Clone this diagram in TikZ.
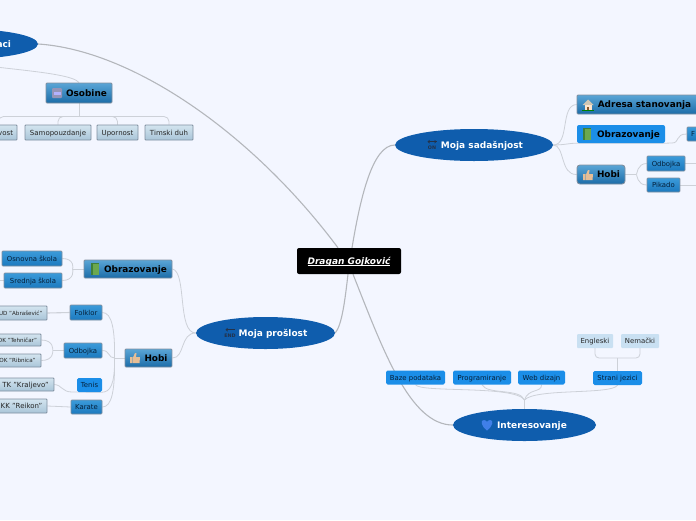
\documentclass[tikz,border=0pt]{standalone}
\usepackage{fontspec}
\setmainfont{DejaVu Sans}
\usetikzlibrary{shapes.geometric,calc,backgrounds}
\definecolor{bgc}{HTML}{F3F6FF}
\definecolor{ovalc}{HTML}{0F5DAD}
\definecolor{inkc}{HTML}{04203A}
\definecolor{linec}{HTML}{CDD1D8}
\definecolor{mainline}{HTML}{B4B7BC}
\definecolor{bigtop}{HTML}{5AA5D6}
\definecolor{bigbot}{HTML}{1B6CA8}
\definecolor{midtop}{HTML}{3B9BDA}
\definecolor{midbot}{HTML}{1C79BE}
\definecolor{flatc}{HTML}{1B8EE8}
\definecolor{leaftop}{HTML}{D3E4EF}
\definecolor{leafbot}{HTML}{A9C5D8}
\definecolor{paleleafc}{HTML}{C9E0F2}
\definecolor{edgec}{HTML}{7F8FA0}
\definecolor{bookc}{HTML}{6BA84F}
\definecolor{bookd}{HTML}{3F7F3A}
\definecolor{thumbc}{HTML}{E6BE96}
\definecolor{heartc}{HTML}{3F7FE8}
\definecolor{icond}{HTML}{23324A}
\definecolor{roofc}{HTML}{CFC6B4}
\newcommand{\ulx}[1]{\setbox0\hbox{#1}\rlap{\rule[-1.5pt]{\wd0}{.6pt}}\box0}
\tikzset{
  boldtext/.style={text height=7pt,text depth=.4pt},
  smalltext/.style={text height=5.6pt,text depth=.4pt},
  oval/.style={ellipse,fill=ovalc,draw=none,inner sep=0pt,text=white,boldtext,font=\fontsize{9}{11}\selectfont\bfseries},
  bigbox/.style={rectangle,rounded corners=1pt,draw=edgec,line width=.9pt,top color=bigtop,bottom color=bigbot,inner sep=0pt,text=black,boldtext,font=\fontsize{8.9}{11}\selectfont\bfseries},
  midbox/.style={rectangle,rounded corners=.8pt,draw=edgec,line width=.7pt,top color=midtop,bottom color=midbot,inner sep=0pt,text=inkc,smalltext,font=\fontsize{6.9}{8}\selectfont},
  flatbox/.style={rectangle,rounded corners=1.6pt,fill=flatc,draw=none,inner sep=0pt,text=inkc,smalltext,font=\fontsize{6.9}{8}\selectfont},
  leafbox/.style={rectangle,rounded corners=.8pt,draw=edgec,line width=.8pt,top color=leaftop,bottom color=leafbot,inner sep=0pt,text=black!85,smalltext,font=\fontsize{7}{8}\selectfont},
  paleleaf/.style={rectangle,rounded corners=1pt,fill=paleleafc,draw=none,inner sep=0pt,text=black!85,smalltext,font=\fontsize{6.9}{8}\selectfont},
  conn/.style={draw=linec,line width=.8pt},
  mainconn/.style={draw=mainline,line width=1.1pt},
  bookicon/.pic={\fill[bookd] (-4,-6) rectangle (4,6);\fill[bookc] (-2.2,-5.5) rectangle (3.6,5.5);},
  thumbicon/.pic={\fill[thumbc] (-5,-1) rectangle (-2.5,5) (-2,-.5) -- (0,-5) -- (1.5,-5) -- (1,-1) -- (5,-1) -- (4.5,5) -- (-2,5) -- cycle;},
  houseicon/.pic={\fill[roofc] (-5.5,0) -- (0,-5.5) -- (5.5,0) -- cycle;\fill[white!80!orange] (-3.5,0) rectangle (3.5,5);\fill[green!50!black] (-6,4.5) rectangle (6,6);\fill[brown!70!black] (-1,1.5) rectangle (1,5);},
  hearticon/.pic={\fill[heartc] (0,5.5) .. controls (-6,1) and (-7,-5) .. (-3,-5) .. controls (-1.5,-5) and (-.5,-4) .. (0,-3) .. controls (.5,-4) and (1.5,-5) .. (3,-5) .. controls (7,-5) and (6,1) .. (0,5.5) -- cycle;},
  arrowicon/.pic={\fill[icond] (-4.5,-4) rectangle (4.5,-2.7);\fill[icond] (-4.5,-3.35) -- (-2.5,-5.2) -- (-2.5,-1.5) -- cycle;\fill[icond] (4.5,-3.35) -- (2.5,-5.2) -- (2.5,-1.5) -- cycle;\node[inner sep=0pt,text=icond,font=\fontsize{4.8}{5}\selectfont\bfseries] at (0,2.7) {ON};},
  endicon/.pic={\fill[icond] (-4.5,-4) rectangle (4.5,-2.7);\fill[icond] (-4.5,-3.35) -- (-2.5,-5.2) -- (-2.5,-1.5) -- cycle;\node[inner sep=0pt,text=icond,font=\fontsize{4.8}{5}\selectfont\bfseries] at (0,2.7) {END};},
  mailicon/.pic={\fill[blue!20!gray!70,rounded corners=1pt] (-5,-5) rectangle (5,5);\fill[white!70!blue] (-3.5,-1) rectangle (3.5,1.5);},
}
\begin{document}
\begin{tikzpicture}[x=1pt,y=-1pt]
\useasboundingbox (0,0) rectangle (696,520);
\clip (0,0) rectangle (696,520);

% main nodes
\node[rectangle,rounded corners=2pt,fill=black,text=white,inner sep=0pt,minimum width=104pt,minimum height=26pt,boldtext,font=\fontsize{9}{11}\selectfont\bfseries\itshape] (root) at (349,261) {\ulx{Dragan Gojković}};
\node[oval,minimum width=158pt,minimum height=32pt] (sad) at (474,145) {\hspace*{16pt}Moja sadašnjost};
\node[oval,minimum width=139pt,minimum height=32pt] (pro) at (265.5,333) {\hspace*{15pt}Moja prošlost};
\node[oval,minimum width=143pt,minimum height=32pt] (int) at (524.5,425) {\hspace*{15pt}Interesovanje};
\node[oval,minimum width=150pt,minimum height=30pt] (lic) at (-37,44) {\makebox[96pt][r]{aci}};

% level 2
\node[bigbox,minimum width=66pt,minimum height=20pt] (oso) at (79,93) {\hspace*{15pt}Osobine};
\node[leafbox,minimum width=37pt,minimum height=15pt] (vos) at (-1.5,132.5) {\makebox[29pt][r]{vost}};
\node[leafbox,minimum width=66pt,minimum height=15pt] (sam) at (58,132.5) {Samopouzdanje};
\node[leafbox,minimum width=41pt,minimum height=15pt] (upo) at (117.5,132.5) {Upornost};
\node[leafbox,minimum width=48pt,minimum height=15pt] (tim) at (169,132.5) {Timski duh};

\node[bigbox,minimum width=122pt,minimum height=19pt] (adr) at (638,104.5) {\hspace*{13pt}Adresa stanovanja};
\node[flatbox,rounded corners=2pt,text=black,boldtext,font=\fontsize{8.9}{11}\selectfont\bfseries,minimum width=88pt,minimum height=18pt] (obr) at (621,134) {\hspace*{15pt}Obrazovanje};
\node[midbox,minimum width=30pt,minimum height=14pt] (fbx) at (702,134) {\makebox[22pt][l]{F}};
\node[bigbox,rounded corners=3pt,minimum width=48pt,minimum height=19pt] (hob) at (601,174.5) {\hspace*{15pt}Hobi};
\node[midbox,minimum width=38pt,minimum height=15pt] (odb) at (666,163.5) {Odbojka};
\node[midbox,minimum width=33pt,minimum height=14pt] (pik) at (663.5,185) {Pikado};
\coordinate (odbend) at (696,163.5);
\coordinate (pikend) at (696,185);

\node[bigbox,minimum width=88pt,minimum height=18pt] (obl) at (128,269) {\hspace*{15pt}Obrazovanje};
\node[midbox,minimum width=60pt,minimum height=15pt] (osn) at (32,258.5) {Osnovna škola};
\node[midbox,minimum width=58pt,minimum height=15pt] (sre) at (33,280.5) {Srednja škola};
\coordinate (sreend) at (0,280.5);
\node[bigbox,minimum width=47pt,minimum height=18pt] (hol) at (148.5,358) {\hspace*{15pt}Hobi};
\node[midbox,minimum width=32pt,minimum height=15pt] (fol) at (86,312.5) {Folklor};
\node[midbox,minimum width=38pt,minimum height=15pt] (odl) at (83,350.5) {Odbojka};
\node[flatbox,minimum width=25pt,minimum height=14pt] (ten) at (89.5,385) {Tenis};
\node[midbox,minimum width=31pt,minimum height=14pt] (kar) at (86.5,407) {Karate};
\node[leafbox,font=\fontsize{5.6}{7}\selectfont,text height=4.6pt,minimum width=56pt,minimum height=14pt] (kud) at (19,313) {KUD "Abrašević"};
\node[leafbox,font=\fontsize{5.6}{7}\selectfont,text height=4.6pt,minimum width=47pt,minimum height=12pt] (teh) at (17.5,340) {OK "Tehničar"};
\node[leafbox,font=\fontsize{5.6}{7}\selectfont,text height=4.6pt,minimum width=47pt,minimum height=13pt] (rib) at (17.5,360.5) {OK "Ribnica"};
\node[leafbox,minimum width=57pt,minimum height=13pt] (tkk) at (25.5,384.5) {TK "Kraljevo"};
\node[leafbox,minimum width=51pt,minimum height=14pt] (kkr) at (21.5,406) {KK "Reikon"};

\node[flatbox,minimum width=59pt,minimum height=14pt] (baz) at (415.5,377.5) {Baze podataka};
\node[flatbox,minimum width=58pt,minimum height=14pt] (prg) at (482,377.5) {Programiranje};
\node[flatbox,minimum width=47pt,minimum height=14pt] (web) at (541.5,377.5) {Web dizajn};
\node[flatbox,minimum width=49pt,minimum height=14pt] (str) at (617.5,378) {Strani jezici};
\node[paleleaf,minimum width=36pt,minimum height=14pt] (eng) at (595,341) {Engleski};
\node[paleleaf,minimum width=38pt,minimum height=14pt] (nem) at (640,341) {Nemački};

\coordinate (hubT) at (0,116.5);
\coordinate (hubI) at (524.5,400);
\coordinate (rootNW) at ($(root.north)+(-11,0)$);
\coordinate (rootNE) at ($(root.north)+(3,0)$);
\coordinate (rootSW) at ($(root.south)+(-1,0)$);
\coordinate (rootSE) at ($(root.south)+(4,0)$);
\coordinate (hubS) at (0,358);

% connectors, behind the nodes
\begin{pgfonlayer}{background}
\fill[bgc] (0,0) rectangle (696,520);
\draw[mainconn] (lic.east) .. controls (130,50) and (250,130) .. (rootNW);
\draw[mainconn] (rootNE) .. controls (360,200) and (372,145) .. (sad.west);
\draw[mainconn] (rootSW) .. controls (345,300) and (342,325) .. (pro.east);
\draw[mainconn] (rootSE) .. controls (383,350) and (410,425) .. (int.west);

\draw[conn] (lic.south) .. controls (-37,68) and (70,70) .. (oso.north);
\draw[conn,line width=1pt] (oso.south) -- (oso.south |- hubT);
\draw[conn,rounded corners=5pt] (vos.north) -- (vos.north |- hubT) -- (tim.north |- hubT) -- (tim.north);
\draw[conn,rounded corners=5pt] (sam.north) -- (sam.north |- hubT) -- (upo.north |- hubT) -- (upo.north);

\draw[conn] (adr.west) .. controls (560,105) and (570,145) .. (sad.east);
\draw[conn] (sad.east) .. controls (565,145) and (570,143) .. (obr.south west) -- (obr.south east) -- (672,143) .. controls (680,143) and (675,134) .. (fbx.west);
\draw[conn] (hob.west) .. controls (560,175) and (565,145) .. (sad.east);
\draw[conn,line width=1pt] (hob.east) -- ++(11,0) coordinate (hubR);
\draw[conn] (odb.west) .. controls (637,163.5) and (637,174.5) .. (hubR);
\draw[conn] (pik.west) .. controls (637,185) and (637,174.5) .. (hubR);
\draw[conn] (odb.east) -- (odbend);
\draw[conn] (pik.east) -- (pikend);

\draw[conn] (obl.east) .. controls (187,272) and (177,333) .. (pro.west);
\draw[conn] (hol.east) .. controls (185,358) and (180,333) .. (pro.west);
\draw[conn,line width=1pt] (obl.west) -- ++(-11,0) coordinate (hubO);
\draw[conn] (osn.east) .. controls (75,258.5) and (73,269) .. (hubO);
\draw[conn] (sre.east) .. controls (75,280.5) and (73,269) .. (hubO);
\draw[conn] (sreend) -- (sre.west);

\draw[conn,line width=1pt] (hol.west) -- ++(-10,0) coordinate (hubH);
\draw[conn] (fol.east) .. controls (112,312.5) and (115,330) .. (hubH);
\draw[conn] (odl.east) .. controls (110,350.5) and (108,358) .. (hubH);
\draw[conn] (ten.south east) .. controls (110,392) and (115,385) .. (hubH);
\draw[conn] (kar.east) .. controls (112,407) and (115,390) .. (hubH);
\draw[conn] (tkk.east) .. controls (62,385) and (62,392) .. (72,392) -- (ten.south east);
\draw[conn,line width=1.1pt] (kud.east) -- (fol.west);
\draw[conn,line width=1pt] (odl.west) -- ++(-11,0) coordinate (hubL);
\draw[conn] (teh.east) .. controls (54,340) and (53,350.5) .. (hubL);
\draw[conn] (rib.east) .. controls (54,360.5) and (53,350.5) .. (hubL);
\draw[conn] (kkr.east) -- (kar.west);

\draw[conn,line width=1.3pt] (int.north) -- (hubI);
\draw[conn] (baz.south) .. controls (420,393) and (515,385) .. (hubI);
\draw[conn] (prg.south) .. controls (487,395) and (520,388) .. (hubI);
\draw[conn] (web.south) .. controls (542,393) and (528,388) .. (hubI);
\draw[conn] (str.south) .. controls (612,395) and (535,388) .. (hubI);
\draw[conn,line width=1.2pt] (str.north) -- (str.north |- hubS);
\draw[conn,rounded corners=4pt] (eng.south) -- (eng.south |- hubS) -- (nem.south |- hubS) -- (nem.south);
\end{pgfonlayer}

% icons
\pic at (432,145) {arrowicon};
\pic at (230,333) {endicon};
\pic at (487,425) {hearticon};
\pic at (57,93) {mailicon};
\pic at (588,105) {houseicon};
\pic at (587,134) {bookicon};
\pic at (588,175) {thumbicon};
\pic at (95,269) {bookicon};
\pic at (135,358) {thumbicon};
\end{tikzpicture}
\end{document}
